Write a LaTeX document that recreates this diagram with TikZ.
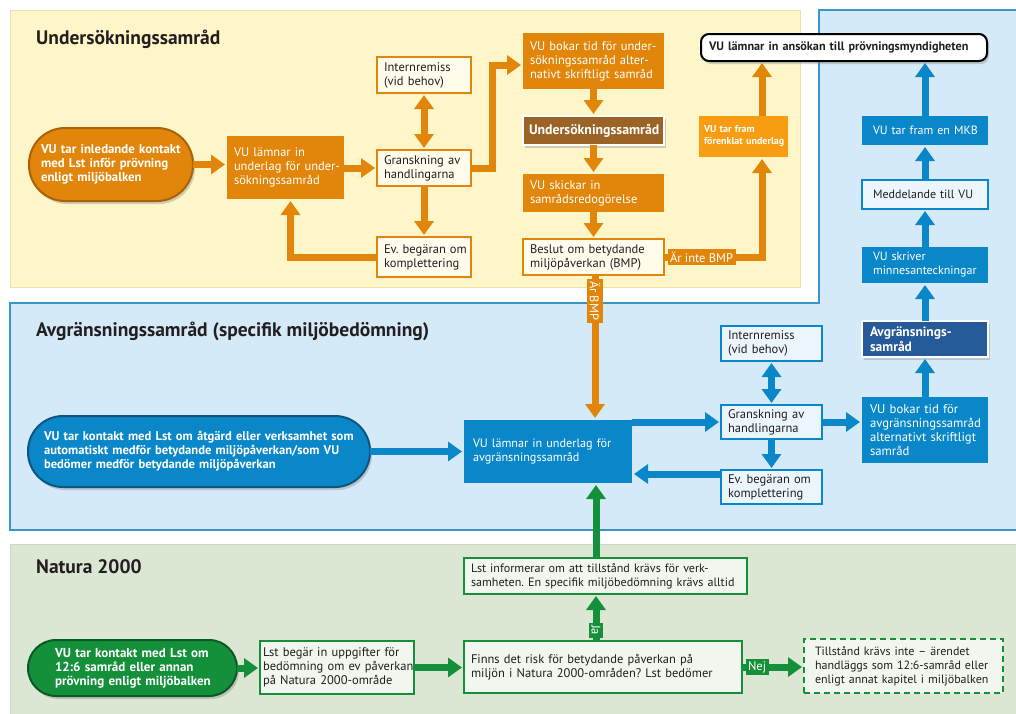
\documentclass[tikz,border=0pt]{standalone}
\usepackage{fontspec}
\setmainfont{PT Sans}
\usetikzlibrary{arrows.meta,shadows}
\definecolor{orF}{HTML}{E2860B}
\definecolor{orD}{HTML}{A9620A}
\definecolor{orB}{HTML}{F89C12}
\definecolor{brn}{HTML}{9B6326}
\definecolor{orL}{HTML}{FFFCEC}
\definecolor{blF}{HTML}{0A87C9}
\definecolor{blD}{HTML}{0E557F}
\definecolor{blK}{HTML}{265A98}
\definecolor{blL}{HTML}{EAF5FC}
\definecolor{grF}{HTML}{14903A}
\definecolor{grD}{HTML}{0B5A25}
\definecolor{grL}{HTML}{F1F6EE}
\definecolor{ybg}{HTML}{FEF6C9}
\definecolor{yln}{HTML}{EEE2A8}
\definecolor{bbg}{HTML}{D4EAF8}
\definecolor{bln}{HTML}{3C95C8}
\definecolor{gbg}{HTML}{DBE7D3}
\definecolor{gln}{HTML}{C6DABD}
\definecolor{txt}{HTML}{231F20}
\tikzset{
  base/.style={font=\fontsize{12.5}{14}\selectfont, inner xsep=2pt, inner ysep=2pt, align=left, outer sep=0pt,
    execute at begin node={\rightskip=0pt plus 1fil minus 300pt}},
  big/.style={font=\fontsize{12}{14}\selectfont},
  filled/.style={base, fill=#1, text=white},
  light/.style={base, fill=#1, text=txt, line width=2.5pt},
  pill/.style={base, text=white, line width=2pt,
    drop shadow={opacity=0.35, shadow xshift=2pt, shadow yshift=-3pt}},
  strong/.style={base, text=white, draw=white, line width=1.5pt,
    drop shadow={opacity=0.35, shadow xshift=2pt, shadow yshift=-3pt}},
  title/.style={font=\fontsize{19.5}{22}\selectfont\bfseries, text=txt, anchor=base west, inner sep=0pt},
  lbl/.style={font=\fontsize{12.5}{14}\selectfont, text=white, fill=#1, inner sep=2.5pt},
  arr/.style={line width=7pt, draw=#1, -{Triangle[width=19pt,length=14pt]}, shorten >=2pt},
  darr/.style={line width=7pt, draw=#1, {Triangle[width=19pt,length=14pt]}-{Triangle[width=19pt,length=14pt]}, shorten >=2pt, shorten <=2pt},
}
\begin{document}
\hyphenpenalty=10000 \exhyphenpenalty=10000 \frenchspacing
\begin{tikzpicture}[x=1pt,y=-1pt]
\useasboundingbox (0,0) rectangle (1016,713);
\fill[white] (0,0) rectangle (1016,713);
% regions
\draw[fill=ybg, draw=yln, line width=1pt] (10,10) rectangle (800,287);
\draw[fill=bbg, draw=bln, line width=1.2pt] (819,10) -- (1018,10) -- (1018,530) -- (10,530) -- (10,303) -- (819,303) -- cycle;
\draw[fill=gbg, draw=gln, line width=1pt] (10,544) -- (1018,544) -- (1018,715) -- (10,715) -- cycle;
% titles
\node[title] (t1) at (36,44) {Undersökningssamråd};
\node[title] (t2) at (36,336) {Avgränsningssamråd (specifik miljöbedömning)};
\node[title] (t3) at (36,573) {Natura 2000};

% ---------- top section ----------
\node[pill, font=\fontsize{12.8}{14}\selectfont\bfseries, fill=orF, draw=orD, rounded corners=36pt, minimum width=164pt, minimum height=73pt, text width=140pt] (s1) at (111,164.5) {VU tar inledande kontakt\\med Lst inför prövning\\enligt miljöbalken};
\node[filled=orF, minimum width=117pt, minimum height=63pt, text width=103pt] (u1) at (285.5,167.5) {VU lämnar in\\underlag för under-\\sökningssamråd};
\node[light=orL, draw=orF, minimum width=94pt, minimum height=36pt, text width=80pt] (g1) at (424,168) {Granskning av\\handlingarna};
\node[light=orL, draw=orF, minimum width=94pt, minimum height=36pt, text width=80pt] (i1) at (424,75) {Internremiss\\(vid behov)};
\node[light=orL, draw=orF, minimum width=94pt, minimum height=40pt, text width=80pt] (e1) at (424,257) {Ev. begäran om\\komplettering};
\node[filled=orF, minimum width=141pt, minimum height=56pt, text width=127pt] (b1) at (593.5,61) {VU bokar tid för under-\\sökningssamråd alter-\\nativt skriftligt samråd};
\node[strong, font=\fontsize{13.8}{15}\selectfont\bfseries, fill=brn, minimum width=141pt, minimum height=29pt, text width=129pt] (us) at (593.5,130.5) {Undersökningssamråd};
\node[filled=orF, minimum width=141pt, minimum height=38pt, text width=127pt] (sk) at (593.5,193) {VU skickar in\\samrådsredogörelse};
\node[light=orL, draw=orF, minimum width=141pt, minimum height=36pt, text width=127pt] (be) at (593.5,257) {Beslut om betydande\\miljöpåverkan (BMP)};
\node[filled=orB, font=\fontsize{10}{12}\selectfont\bfseries, minimum width=89pt, minimum height=41pt, text width=79pt] (ft) at (743.5,136.5) {VU tar fram\\förenklat underlag};
\node[base, fill=white, draw=black, line width=2pt, rounded corners=8pt, align=center, font=\fontsize{12.2}{14}\selectfont\bfseries, text=txt, minimum width=286pt, minimum height=27pt, text width=270pt,
  execute at begin node={}, drop shadow={opacity=0.35, shadow xshift=2pt, shadow yshift=-3pt}] (fin) at (844,47.5) {VU lämnar in ansökan till prövningsmyndigheten};

% ---------- right column ----------
\node[filled=blF, big, minimum width=126pt, minimum height=29pt, text width=104pt] (mkb) at (925,130.5) {VU tar fram en MKB};
\node[light=blL, draw=blF, big, minimum width=126pt, minimum height=29pt, text width=104pt] (me) at (925,194.5) {Meddelande till VU};
\node[filled=blF, big, minimum width=126pt, minimum height=36pt, text width=104pt] (vs) at (925,265) {VU skriver\\minnesanteckningar};
\node[strong, font=\fontsize{13.5}{14.5}\selectfont\bfseries, fill=blK, minimum width=126pt, minimum height=36pt, text width=110pt] (as) at (925,339) {Avgränsnings-\\samråd};
\node[filled=blF, font=\fontsize{12.7}{14}\selectfont, minimum width=126pt, minimum height=66pt, text width=110pt] (vb) at (925,430) {VU bokar tid för\\avgränsningssamråd\\alternativt skriftligt\\samråd};

% ---------- middle section ----------
\node[pill, font=\fontsize{12.6}{14}\selectfont\bfseries, fill=blF, draw=blD, rounded corners=35pt, minimum width=342pt, minimum height=71pt, text width=310pt] (s2) at (199,451.5) {VU tar kontakt med Lst om åtgärd eller verksamhet som\\automatiskt medför betydande miljöpåverkan/som VU\\bedömer medför betydande miljöpåverkan};
\node[filled=blF, font=\fontsize{12.2}{14}\selectfont, minimum width=168pt, minimum height=63pt, text width=150pt] (u2) at (548,451.5) {VU lämnar in underlag för\\avgränsningssamråd};
\node[light=blL, draw=blF, minimum width=101pt, minimum height=35pt, text width=87pt] (i2) at (771.5,343.5) {Internremiss\\(vid behov)};
\node[light=blL, draw=blF, minimum width=101pt, minimum height=34pt, text width=87pt] (g2) at (771.5,422) {Granskning av\\handlingarna};
\node[light=blL, draw=blF, minimum width=101pt, minimum height=34pt, text width=87pt] (e2) at (771.5,487) {Ev. begäran om\\komplettering};

% ---------- bottom section ----------
\node[pill, font=\fontsize{13}{14}\selectfont\bfseries, fill=grF, draw=grD, rounded corners=28pt, minimum width=209pt, minimum height=56pt, text width=155pt] (s3) at (132.5,668) {VU tar kontakt med Lst om\\12:6 samråd eller annan\\prövning enligt miljöbalken};
\node[light=grL, draw=grF, minimum width=154pt, minimum height=53pt, text width=148pt] (lb) at (337,667.5) {Lst begär in uppgifter för\\bedömning om ev påverkan\\på Natura 2000-område};
\node[light=grL, draw=grF, minimum width=278pt, minimum height=52pt, text width=264pt] (fi) at (603,667) {Finns det risk för betydande påverkan på\\miljön i Natura 2000-områden? Lst bedömer};
\node[light=grL, draw=grF, font=\fontsize{12.1}{14}\selectfont, minimum width=283pt, minimum height=36pt, text width=269pt] (li) at (605.5,576) {Lst informerar om att tillstånd krävs för verk-\\samheten. En specifik miljöbedömning krävs alltid};
\node[light=grL, draw=grF, font=\fontsize{12}{14}\selectfont, dashed, dash pattern=on 6pt off 4pt, minimum width=199pt, minimum height=54pt, text width=177pt] (ti) at (903.5,666) {Tillstånd krävs inte – ärendet\\handläggs som 12:6-samråd eller\\enligt annat kapitel i miljöbalken};

% ---------- helper coordinates ----------
\coordinate (u1b) at ([xshift=5pt]u1.south);
\coordinate (b1w) at ([yshift=-4pt]b1.west);
\coordinate (ftb) at ([xshift=18.5pt]ft.south);
\coordinate (ftt) at ([xshift=18.5pt]ft.north);
\coordinate (bmx) at (595,0);
\coordinate (jx) at (596,0);
\coordinate (e2w) at ([yshift=13pt]e2.west);

% ---------- connectors: top ----------
\draw[arr=orF] (s1.east) -- (s1.east -| u1.west);
\draw[arr=orF] (u1.east |- g1.west) -- (g1.west);
\draw[darr=orF] (i1.south) -- (g1.north);
\draw[arr=orF] (g1.south) -- (e1.north);
\draw[arr=orF] (e1.west) -| (u1b);
\draw[arr=orF] (g1.east) -- ++(21,0) |- (b1w);
\draw[arr=orF] (b1.south) -- (us.north);
\draw[arr=orF] (us.south) -- (sk.north);
\draw[arr=orF] (sk.south) -- (be.north);
\draw[arr=orF] (be.east) -| node[lbl=orF, pos=0, anchor=west] (nbmp) {Är inte BMP} (ftb);
\draw[arr=orF] (ftt) -- (ftt |- fin.south);
\draw[arr=orF] (be.south -| bmx) -- node[lbl=orF, pos=0, anchor=west, rotate=-90] (ybmp) {Är BMP} (u2.north -| bmx);

% ---------- connectors: right column ----------
\draw[arr=blF] (mkb.north) -- (mkb.north |- fin.south);
\draw[arr=blF] (me.north) -- (mkb.south);
\draw[arr=blF] (vs.north) -- (me.south);
\draw[arr=blF] (as.north) -- (vs.south);
\draw[arr=blF] (vb.north) -- (as.south);

% ---------- connectors: middle ----------
\draw[arr=blF] (s2.east) -- (s2.east -| u2.west);
\draw[arr=blF] (u2.east |- g2.west) -- (g2.west);
\draw[darr=blF] (i2.south) -- (g2.north);
\draw[arr=blF] (g2.south) -- (e2.north);
\draw[arr=blF] (e2w) -- (e2w -| u2.east);
\draw[arr=blF] (g2.east) -- (g2.east -| vb.west);

% ---------- connectors: bottom ----------
\draw[arr=grF] (s3.east) -- (s3.east -| lb.west);
\draw[arr=grF] (lb.east) -- (lb.east -| fi.west);
\draw[arr=grF] (fi.north -| jx) -- node[lbl=grF, pos=0, anchor=east, rotate=-90] (ja) {Ja} (li.south -| jx);
\draw[arr=grF] (li.north -| jx) -- (u2.south -| jx);
\draw[arr=grF] (fi.east) -- node[lbl=grF, pos=0, anchor=west] (nej) {Nej} (fi.east -| ti.west);
\end{tikzpicture}
\end{document}
